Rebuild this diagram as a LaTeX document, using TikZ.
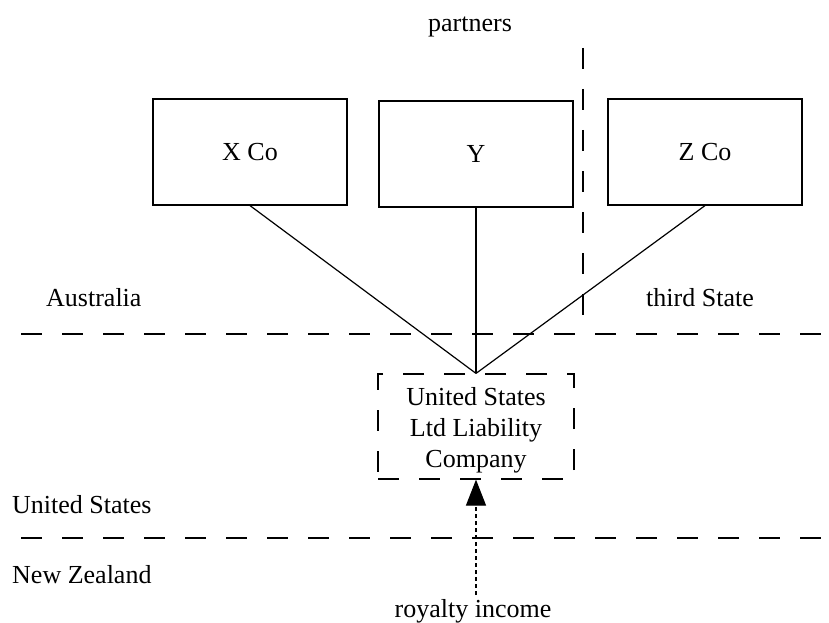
\documentclass[tikz,border=0pt]{standalone}
\usepackage{fontspec}
\setmainfont{Liberation Serif}
\usetikzlibrary{arrows.meta}
\begin{document}
\begin{tikzpicture}[x=1bp,y=-1bp,
  every node/.style={font=\fontsize{26bp}{31bp}\selectfont},
  partybox/.style={draw,line width=1.2bp,minimum width=194bp,minimum height=106bp,inner sep=0pt},
  llcbox/.style={draw,line width=1.2bp,dash pattern=on 21bp off 20bp,minimum width=196bp,minimum height=105bp,inner sep=0pt},
  border/.style={line width=1.2bp,dash pattern=on 21bp off 20bp},
  link/.style={line width=1.2bp},
  label/.style={inner sep=0pt},
  flow/.style={line width=1.2bp,dash pattern=on 4bp off 3bp,-{Triangle[length=26bp,width=20bp]}}
]
\useasboundingbox (0,0) rectangle (829,623);

% partners
\node[partybox] (x) at (250,152) {X Co};
\node[partybox] (y) at (476,154) {Y};
\node[partybox] (z) at (705,152) {Z Co};
\node[label,anchor=base] (partners) at (470,32) {partners};

% borders between states
\coordinate (v1) at (583,48);
\coordinate (v2) at (583,322);
\draw[border] (v1) -- (v2);
\coordinate (h1a) at (21,334);
\coordinate (h1b) at (829,334);
\draw[border] (h1a) -- (h1b);
\coordinate (h2a) at (21,538);
\coordinate (h2b) at (829,538);
\draw[border] (h2a) -- (h2b);

% state names
\node[label,anchor=base west] (aus) at (46,306) {Australia};
\node[label,anchor=base west] (third) at (646,306) {third State};
\node[label,anchor=base west] (us) at (12,513) {United States};
\node[label,anchor=base west] (nz) at (12,583) {New Zealand};

% hybrid entity
\node[llcbox] (llc) at (476,426.5) {};
\node[label,align=center,anchor=base] (llctext) at (476,467) {United States\\Ltd Liability\\Company};

\draw[link] (x.south) -- (llc.north);
\draw[link] (y.south) -- (llc.north);
\draw[link] (z.south) -- (llc.north);

% income flow
\node[label,anchor=base] (roy) at (473,617) {royalty income};
\coordinate (src) at (476,595);
\draw[flow] (src) -- (llc.south);
\end{tikzpicture}
\end{document}
